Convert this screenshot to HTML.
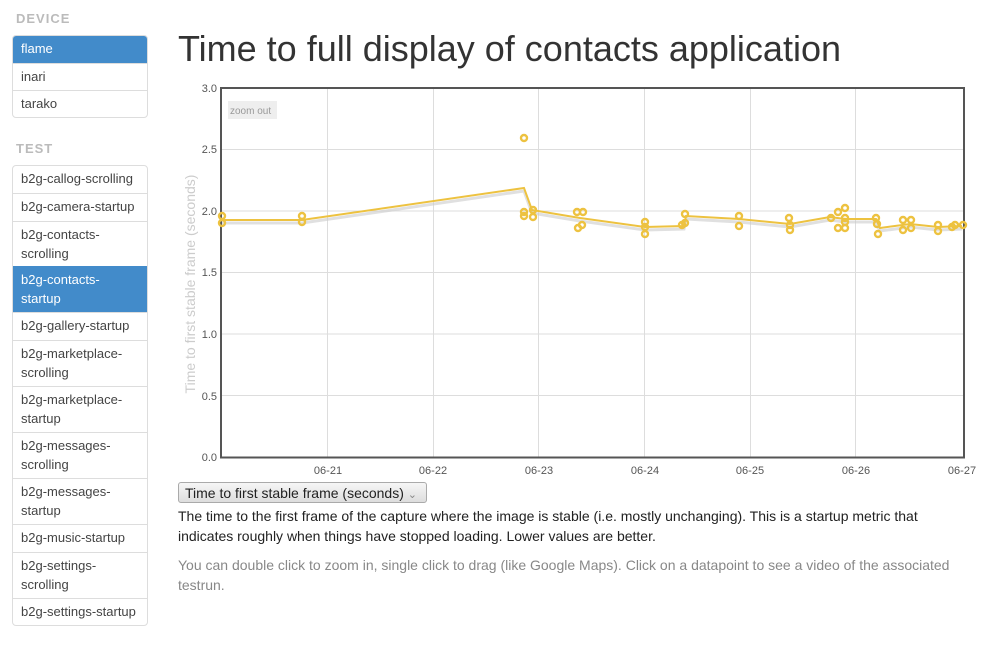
<!DOCTYPE html>
<html><head><meta charset="utf-8"><style>
body{margin:0;width:1002px;height:664px;background:#fff;font-family:"Liberation Sans",sans-serif;position:relative;overflow:hidden;color:#333}
.h{position:absolute;left:16px;font-size:13px;font-weight:bold;color:#bbb;letter-spacing:1px}
.list{position:absolute;left:12px;width:134px;border:1px solid #ddd;border-radius:4px;overflow:hidden}
.list div{box-sizing:border-box;padding:3px 8px 0 8px;font-size:13px;line-height:19px;border-top:1px solid #ddd;color:#444}
.list div:first-child{border-top:none}
.list div.a{background:#428bca;color:#fff;border-color:#428bca}
.t{position:absolute;left:178px;top:28px;font-size:36px;color:#333;white-space:nowrap}
.p{position:absolute;left:178px;width:790px;font-size:14px;line-height:20px}
.sel{position:absolute;left:178px;top:482px;width:249px;height:21px;border:1px solid #aaa;border-radius:3px;background:linear-gradient(#f6f6f6,#ddd);font-size:14px;line-height:21px;padding-left:6px;box-sizing:border-box;color:#222}
</style></head><body>
<div class="h" style="top:11px">DEVICE</div>
<div class="list" style="top:35px">
<div class="a" style="height:27px">flame</div>
<div style="height:27px">inari</div>
<div style="height:27px">tarako</div>
</div>
<div class="h" style="top:141px">TEST</div>
<div class="list" style="top:165px">
<div style="height:27px">b2g-callog-scrolling</div>
<div style="height:28px">b2g-camera-startup</div>
<div style="height:45px">b2g-contacts-<br>scrolling</div>
<div class="a" style="height:46px">b2g-contacts-<br>startup</div>
<div style="height:28px">b2g-gallery-startup</div>
<div style="height:46px">b2g-marketplace-<br>scrolling</div>
<div style="height:46px">b2g-marketplace-<br>startup</div>
<div style="height:46px">b2g-messages-<br>scrolling</div>
<div style="height:46px">b2g-messages-<br>startup</div>
<div style="height:28px">b2g-music-startup</div>
<div style="height:46px">b2g-settings-<br>scrolling</div>
<div style="height:27px">b2g-settings-startup</div>
</div>
<div class="t">Time to full display of contacts application</div>
<svg style="position:absolute;left:0;top:0" width="1002" height="480" font-family="Liberation Sans, sans-serif">
<g stroke="#ddd" stroke-width="1">
<line x1="222" x2="964" y1="149.5" y2="149.5"/><line x1="222" x2="964" y1="211" y2="211"/><line x1="222" x2="964" y1="272.5" y2="272.5"/><line x1="222" x2="964" y1="334" y2="334"/><line x1="222" x2="964" y1="395.5" y2="395.5"/>
<line y1="88" y2="457" x1="327.5" x2="327.5"/><line y1="88" y2="457" x1="433.5" x2="433.5"/><line y1="88" y2="457" x1="538.5" x2="538.5"/><line y1="88" y2="457" x1="644.5" x2="644.5"/><line y1="88" y2="457" x1="750.5" x2="750.5"/><line y1="88" y2="457" x1="855.5" x2="855.5"/>
</g>
<rect x="221" y="88" width="743" height="369.5" fill="none" stroke="#555" stroke-width="2"/>
<g font-size="11" fill="#555" text-anchor="end">
<text x="217" y="92">3.0</text><text x="217" y="153">2.5</text><text x="217" y="215">2.0</text><text x="217" y="276">1.5</text><text x="217" y="338">1.0</text><text x="217" y="400">0.5</text><text x="217" y="461">0.0</text>
</g>
<g font-size="11" fill="#555" text-anchor="middle">
<text x="328" y="474">06-21</text><text x="433" y="474">06-22</text><text x="539" y="474">06-23</text><text x="645" y="474">06-24</text><text x="750" y="474">06-25</text><text x="856" y="474">06-26</text><text x="962" y="474">06-27</text>
</g>
<text transform="translate(195,284) rotate(-90)" text-anchor="middle" font-size="14" fill="#ccc">Time to first stable frame (seconds)</text>
<rect x="228" y="101" width="49" height="18" fill="#eee"/>
<text x="230" y="114" font-size="10" fill="#999">zoom out</text>
<polyline fill="none" stroke="#ccc" stroke-width="3" opacity="0.6" points="222,223 302,223 524,191 532,213 580,221 645,230 684,229 686,219 739,222 790,227 830,220 845,222 876,222 880,231 910,227 938,230 962,229"/>
<polyline fill="none" stroke="#edc240" stroke-width="2" points="222,220 302,220 524,188 532,210 580,218 645,227 684,226 686,216 739,219 790,224 830,217 845,219 876,219 880,228 910,224 938,227 962,226"/>
<g fill="none" stroke="#edc240" stroke-width="2.4">
<circle cx="222" cy="216" r="3"/><circle cx="222" cy="223" r="3"/><circle cx="302" cy="216" r="3"/><circle cx="302" cy="222" r="3"/>
<circle cx="524" cy="138" r="3"/><circle cx="524" cy="212" r="3"/><circle cx="524" cy="216" r="3"/><circle cx="533" cy="210" r="3"/><circle cx="533" cy="217" r="3"/>
<circle cx="577" cy="212" r="3"/><circle cx="583" cy="212" r="3"/><circle cx="578" cy="228" r="3"/><circle cx="582" cy="225" r="3"/>
<circle cx="645" cy="222" r="3"/><circle cx="645" cy="227" r="3"/><circle cx="645" cy="234" r="3"/>
<circle cx="682" cy="225" r="3"/><circle cx="685" cy="214" r="3"/><circle cx="685" cy="223" r="3"/>
<circle cx="739" cy="216" r="3"/><circle cx="739" cy="226" r="3"/>
<circle cx="789" cy="218" r="3"/><circle cx="790" cy="225" r="3"/><circle cx="790" cy="230" r="3"/>
<circle cx="831" cy="218" r="3"/><circle cx="838" cy="212" r="3"/><circle cx="845" cy="208" r="3"/><circle cx="845" cy="218" r="3"/><circle cx="838" cy="228" r="3"/><circle cx="845" cy="228" r="3"/><circle cx="845" cy="222" r="3"/>
<circle cx="876" cy="218" r="3"/><circle cx="877" cy="224" r="3"/><circle cx="878" cy="234" r="3"/>
<circle cx="903" cy="220" r="3"/><circle cx="903" cy="230" r="3"/><circle cx="911" cy="220" r="3"/><circle cx="911" cy="228" r="3"/>
<circle cx="938" cy="225" r="3"/><circle cx="938" cy="231" r="3"/><circle cx="952" cy="227" r="3"/><circle cx="955" cy="225" r="3"/><circle cx="963" cy="225" r="3"/>
</g>
</svg>
<div class="sel">Time to first stable frame (seconds) <span style="color:#888;font-size:11px">&#8964;</span></div>
<div class="p" style="top:506px;color:#222">The time to the first frame of the capture where the image is stable (i.e. mostly unchanging). This is a startup metric that<br>indicates roughly when things have stopped loading. Lower values are better.</div>
<div class="p" style="top:555px;color:#888">You can double click to zoom in, single click to drag (like Google Maps). Click on a datapoint to see a video of the associated testrun.</div>
</body></html>
